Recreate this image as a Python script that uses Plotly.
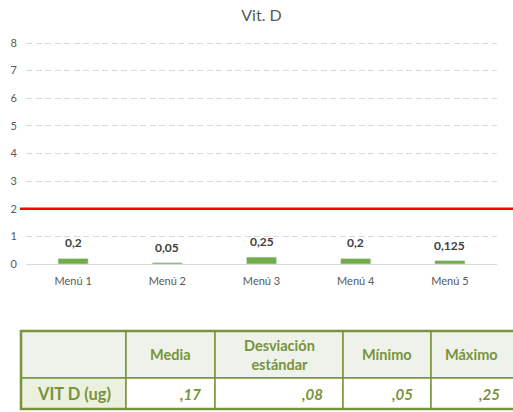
import plotly.graph_objects as go

categories = ["Menú 1", "Menú 2", "Menú 3", "Menú 4", "Menú 5"]
values = [0.2, 0.05, 0.25, 0.2, 0.125]
value_labels = ["0,2", "0,05", "0,25", "0,2", "0,125"]
reference_value = 2
y_ticks = [0, 1, 2, 3, 4, 5, 6, 7, 8]

table_headers = ["", "Media", "Desviación<br>estándar", "Mínimo", "Máximo"]
table_row_label = "VIT D (ug)"
table_values = [",17", ",08", ",05", ",25"]

W, H = 513, 412
L, R, T, B = 26, 497, 40, 264
Y_TOP = 8 * (B - T) / 221.0  # so that 8 sits at pixel row 43
FONT = "Lato, 'Open Sans', sans-serif"
GREEN = "#77933C"


def px(x):
    return (x - L) / (R - L)


def py(y):
    return (B - y) / (B - T)


fig = go.Figure()
fig.add_trace(go.Bar(
    x=categories, y=values,
    marker=dict(color="#70AD47"), width=0.32,
    hoverinfo="skip",
))

shapes = []
annotations = []

# Data labels
for c, v, t in zip(categories, values, value_labels):
    annotations.append(dict(text=t, x=c, y=v, xref="x", yref="y", showarrow=False,
                            xanchor="center", yanchor="bottom", yshift=6,
                            font=dict(size=12, color="#404040", family=FONT, weight="bold")))

# Red reference line
shapes.append(dict(type="line", xref="paper", yref="y", x0=px(20), x1=px(514),
                   y0=reference_value, y1=reference_value,
                   line=dict(color="#FF0000", width=2.5)))

# Table
col_edges = [21, 126, 215, 343, 431, 520]
row_edges = [331, 378, 409]
for i in range(5):
    for r in range(2):
        if r == 0:
            fill = "#EFF2EA"
        else:
            fill = "#EBF1DE" if i == 0 else "#FFFFFF"
        shapes.append(dict(type="rect", xref="paper", yref="paper",
                           x0=px(col_edges[i]), x1=px(col_edges[i + 1]),
                           y0=py(row_edges[r]), y1=py(row_edges[r + 1]),
                           fillcolor=fill, line=dict(color=GREEN, width=1.5),
                           layer="below"))
shapes.append(dict(type="rect", xref="paper", yref="paper",
                   x0=px(col_edges[0]), x1=px(col_edges[-1]),
                   y0=py(row_edges[0]), y1=py(row_edges[-1]),
                   line=dict(color=GREEN, width=2.5)))

for i, h in enumerate(table_headers):
    if not h:
        continue
    cx = (col_edges[i] + col_edges[i + 1]) / 2
    if i == 4:
        cx = 471
    annotations.append(dict(text=h, xref="paper", yref="paper", x=px(cx),
                            y=py((row_edges[0] + row_edges[1]) / 2),
                            showarrow=False, xanchor="center", yanchor="middle",
                            font=dict(size=14.5, color=GREEN, family=FONT, weight="bold")))

annotations.append(dict(text=table_row_label, xref="paper", yref="paper",
                        x=px((col_edges[0] + col_edges[1]) / 2),
                        y=py((row_edges[1] + row_edges[2]) / 2),
                        showarrow=False, xanchor="center", yanchor="middle",
                        font=dict(size=16.5, color=GREEN, family=FONT, weight="bold")))
right_text = [203, 325, 415, 502]
for i, v in enumerate(table_values):
    annotations.append(dict(text="<i>" + v + "</i>", xref="paper", yref="paper",
                            x=px(right_text[i]),
                            y=py((row_edges[1] + row_edges[2]) / 2),
                            showarrow=False, xanchor="right", yanchor="middle",
                            font=dict(size=15, color=GREEN, family=FONT, weight="bold")))

fig.update_layout(
    width=W, height=H,
    margin=dict(l=L, r=W - R, t=T, b=H - B),
    paper_bgcolor="white", plot_bgcolor="white",
    title=dict(text="Vit. D", x=0.5, xref="paper", xanchor="center",
               y=1 - 15 / H, yanchor="middle",
               font=dict(size=16, color="#595959", family=FONT)),
    showlegend=False,
    bargap=0.68,
    xaxis=dict(showgrid=False, showline=True, linecolor="#D9D9D9", linewidth=1,
               ticks="", tickfont=dict(size=11, color="#595959", family=FONT),
               ticklabelstandoff=7, fixedrange=True),
    yaxis=dict(range=[0, Y_TOP], tickvals=y_ticks, showgrid=True, gridcolor="#D9D9D9",
               griddash="6px,3.5px", gridwidth=1, zeroline=False, showline=False,
               ticks="", tickfont=dict(size=11, color="#595959", family=FONT),
               ticklabelstandoff=8, fixedrange=True),
    shapes=shapes, annotations=annotations,
)

fig.write_html("out.html", config={"displayModeBar": False},
               post_script="document.body.style.margin='0';document.body.style.overflow='hidden';")
